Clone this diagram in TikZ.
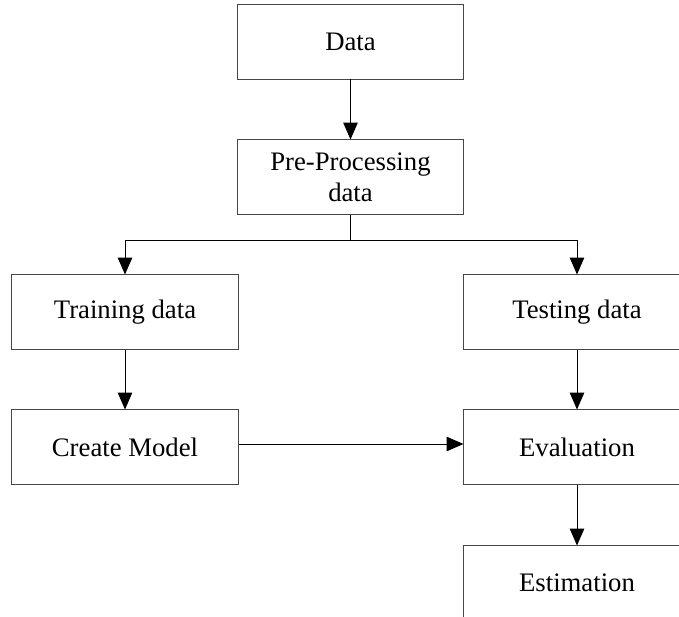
\documentclass[tikz,border=0pt]{standalone}
\usepackage{fontspec}
\setmainfont{Liberation Serif}
\usetikzlibrary{arrows.meta, positioning}
\definecolor{boxline}{RGB}{70,70,70}
\tikzset{
  base/.style  = {draw=boxline, line width=0.7pt, align=center,
                  font=\fontsize{19}{22}\selectfont, inner sep=0pt},
  stage/.style = {base, minimum width=5.65cm, minimum height=1.85cm},
  arr/.style   = {-{Triangle[length=0.42cm, width=0.36cm]}, line width=0.7pt},
}

\begin{document}
\begin{tikzpicture}[x=0.025cm, y=-0.025cm]
  \clip (0,0) rectangle (679,617);
  \node[stage] (data)  at (350.5,42)  {Data};
  \node[stage] (pre)   at (350.5,177) {Pre-Processing\\data};
  \node[stage] (train) at (125,312)   {Training data};
  \node[stage] (test)  at (577,312)   {Testing data};
  \node[stage] (model) at (125,447)   {Create Model};
  \node[stage] (eval)  at (577,447)   {Evaluation};
  \node[stage] (est)   at (577,583)   {Estimation};
  \coordinate (split) at (350.5,240);

  \draw[arr] (data) -- (pre);
  \draw (pre) -- (split);
  \draw[arr] (split) -| (train);
  \draw[arr] (split) -| (test);
  \draw[arr] (train) -- (model);
  \draw[arr] (test) -- (eval);
  \draw[arr] (model.east |- 0,444) -- (eval.west |- 0,444);
  \draw[arr] (eval) -- (est);
\end{tikzpicture}
\end{document}
